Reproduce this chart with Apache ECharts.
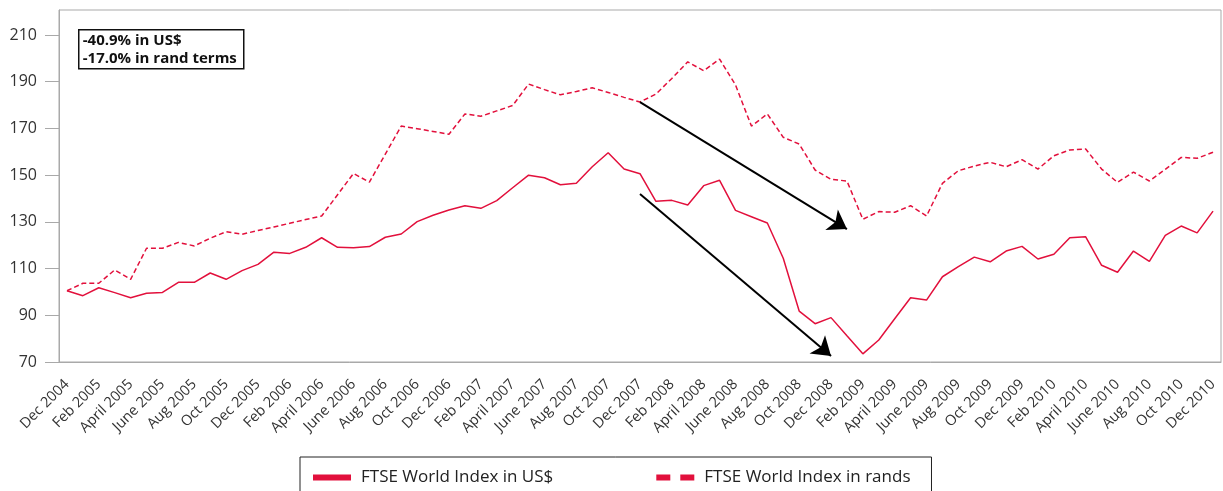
<!DOCTYPE html>
<html>
<head>
<meta charset="utf-8">
<script src="https://cdn.jsdelivr.net/npm/echarts@6/dist/echarts.min.js"></script>
<style>
  html, body { margin: 0; padding: 0; background: #fff; }
  #chart { width: 1223px; height: 491px; }
</style>
</head>
<body>
<div id="chart"></div>
<script>
var months = [
  'Dec 2004',
  'Jan 2005', 'Feb 2005', 'March 2005', 'April 2005', 'May 2005', 'June 2005',
  'July 2005', 'Aug 2005', 'Sept 2005', 'Oct 2005', 'Nov 2005', 'Dec 2005',
  'Jan 2006', 'Feb 2006', 'March 2006', 'April 2006', 'May 2006', 'June 2006',
  'July 2006', 'Aug 2006', 'Sept 2006', 'Oct 2006', 'Nov 2006', 'Dec 2006',
  'Jan 2007', 'Feb 2007', 'March 2007', 'April 2007', 'May 2007', 'June 2007',
  'July 2007', 'Aug 2007', 'Sept 2007', 'Oct 2007', 'Nov 2007', 'Dec 2007',
  'Jan 2008', 'Feb 2008', 'March 2008', 'April 2008', 'May 2008', 'June 2008',
  'July 2008', 'Aug 2008', 'Sept 2008', 'Oct 2008', 'Nov 2008', 'Dec 2008',
  'Jan 2009', 'Feb 2009', 'March 2009', 'April 2009', 'May 2009', 'June 2009',
  'July 2009', 'Aug 2009', 'Sept 2009', 'Oct 2009', 'Nov 2009', 'Dec 2009',
  'Jan 2010', 'Feb 2010', 'March 2010', 'April 2010', 'May 2010', 'June 2010',
  'July 2010', 'Aug 2010', 'Sept 2010', 'Oct 2010', 'Nov 2010', 'Dec 2010'
];

// FTSE World Index in US$ (Dec 2004 = 100)
var usd = [
  100.5, 98.4, 101.8, 99.7, 97.5, 99.4, 99.8, 104.1, 104.1, 108.1, 105.4, 109.1, 111.8,
  117.0, 116.5, 119.1, 123.2, 119.1, 118.9, 119.4, 123.4, 124.8, 130.1, 132.8, 135.1,
  136.9, 135.8, 139.1, 144.6, 150.0, 148.9, 145.9, 146.5, 153.6, 159.6, 152.6, 150.6,
  138.8, 139.2, 137.2, 145.5, 147.8, 134.9, 132.2, 129.5, 114.4, 91.8, 86.4, 89.0,
  81.2, 73.5, 79.4, 88.5, 97.5, 96.5, 106.5, 110.8, 114.9, 112.9, 117.5, 119.5,
  114.1, 116.1, 123.2, 123.6, 111.4, 108.4, 117.5, 113.1, 124.2, 128.2, 125.3, 134.6
];

// FTSE World Index in rands
var rands = [
  100.5, 103.7, 103.7, 109.4, 105.4, 118.7, 118.7, 121.2, 119.7, 123.0, 125.8, 124.7, 126.3,
  127.8, 129.4, 131.0, 132.5, 141.6, 150.7, 147.0, 159.0, 171.0, 169.9, 168.7, 167.5,
  176.2, 175.2, 177.5, 179.8, 189.0, 186.6, 184.4, 185.8, 187.4, 185.4, 183.3, 181.3,
  184.7, 191.4, 198.5, 194.7, 199.7, 188.6, 171.0, 176.2, 166.2, 163.3, 152.2, 148.2,
  147.5, 131.1, 134.4, 134.1, 136.9, 132.5, 146.5, 151.9, 153.9, 155.5, 153.6, 156.6,
  152.6, 158.3, 160.8, 161.2, 152.6, 146.9, 151.3, 147.5, 152.5, 157.6, 157.2, 159.8
];

var yTicks = [70, 90, 110, 130, 150, 170, 190, 210];
var notes = ['-40.9% in US$', '-17.0% in rand terms'];
// arrows: [start index, start value], [end index, end value]
var arrows = [
  [[36, 181.3], [49, 126.9]],
  [[36, 141.9], [48, 72.6]]
];

var red = '#e2103c';
var grey = '#a9a9a9';
var font = '"Open Sans", sans-serif';

var myChart = echarts.init(document.getElementById('chart'));

var arrowData = arrows.map(function (a) {
  return [{ coord: a[0] }, { coord: a[1] }];
});

var option = {
  animation: false,
  backgroundColor: '#fff',
  textStyle: { fontFamily: font },
  grid: {
    left: 59, right: 2, top: 10, bottom: 129,
    show: true, borderColor: grey, borderWidth: 1,
    containLabel: false, outerBoundsMode: 'none'
  },
  legend: {
    left: 300, top: 457,
    padding: [12, 21, 24, 13],
    borderColor: '#222', borderWidth: 1,
    itemWidth: 38, itemHeight: 6, itemGap: 103,
    textStyle: { fontFamily: font, fontSize: 17, color: '#222', padding: [0, 0, 0, 5] },
    data: [
      { name: 'FTSE World Index in US$', icon: 'rect' },
      { name: 'FTSE World Index in rands', icon: 'path://M0,0H14V6H0ZM24,0H38V6H24Z' }
    ]
  },
  xAxis: {
    type: 'category',
    data: months,
    boundaryGap: true,
    axisLine: { lineStyle: { color: grey } },
    axisTick: { interval: 1, length: 15, lineStyle: { color: '#9a9a9a' } },
    axisLabel: {
      interval: 1, rotate: 45, fontSize: 14.5, color: '#333',
      margin: 20, padding: [14, 0, 0, 0], fontFamily: font
    }
  },
  yAxis: {
    type: 'value',
    min: 70,
    max: 220.7,
    splitLine: { show: false },
    axisLine: { show: true, lineStyle: { color: grey } },
    axisTick: { show: true, length: 14, lineStyle: { color: grey }, customValues: yTicks },
    axisLabel: { customValues: yTicks, margin: 22, fontSize: 16, color: '#333', fontFamily: font }
  },
  graphic: [{
    type: 'group',
    left: 78,
    top: 29,
    children: [
      { type: 'rect', shape: { x: 0, y: 0, width: 165, height: 39 },
        style: { fill: '#fff', stroke: '#111', lineWidth: 1.5 } },
      { type: 'text', x: 4, y: 2,
        style: { text: notes.join('\n'), font: 'bold 15px ' + font, lineHeight: 18, fill: '#111' } }
    ]
  }],
  series: [
    {
      name: 'FTSE World Index in US$',
      type: 'line',
      data: usd,
      symbol: 'none',
      lineStyle: { color: red, width: 1.5 },
      itemStyle: { color: red },
      markLine: {
        silent: true,
        symbol: ['none', 'arrow'],
        symbolSize: 18,
        label: { show: false },
        lineStyle: { color: '#000', width: 2, type: 'solid' },
        emphasis: { disabled: true },
        data: arrowData
      }
    },
    {
      name: 'FTSE World Index in rands',
      type: 'line',
      data: rands,
      symbol: 'none',
      lineStyle: { color: red, width: 1.5, type: [5, 3] },
      itemStyle: { color: red }
    }
  ]
};

myChart.setOption(option);
</script>
</body>
</html>
